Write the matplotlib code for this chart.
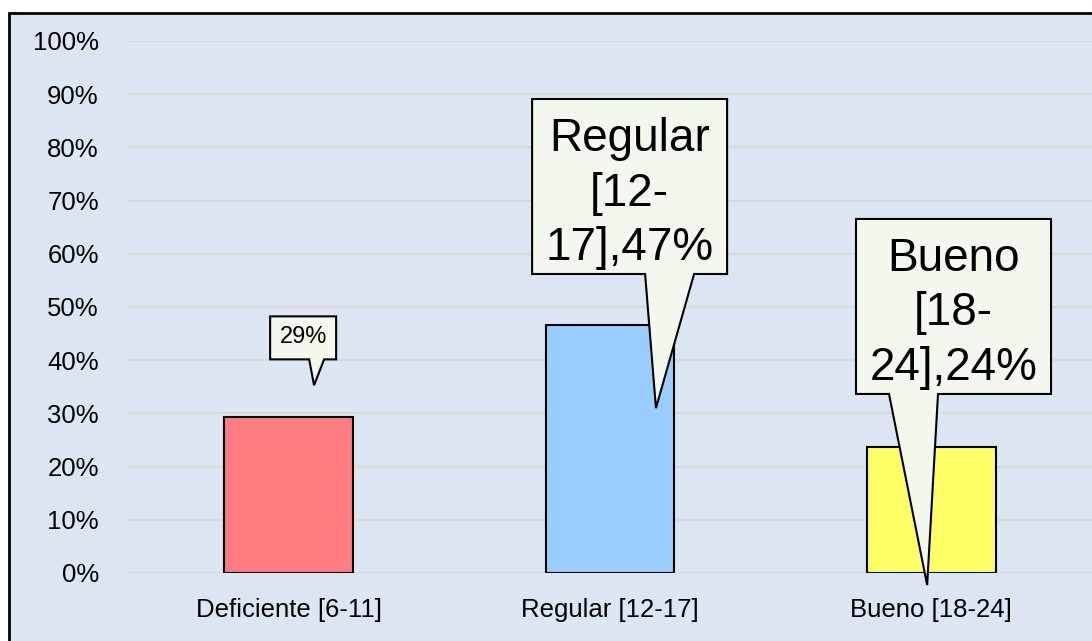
import matplotlib
matplotlib.use("Agg")
import matplotlib.pyplot as plt
from matplotlib.patches import Rectangle, Polygon
import numpy as np

plt.rcParams['font.family'] = ['Liberation Sans', 'DejaVu Sans']

# datos
categorias = ['Deficiente [6-11]', 'Regular [12-17]', 'Bueno [18-24]']
porcentajes = [29.4, 46.6, 23.7]
colores = ['#ff7c80', '#99ccff', '#ffff66']
etiquetas_y = ['0%', '10%', '20%', '30%', '40%', '50%', '60%', '70%', '80%', '90%', '100%']

# globos: centro de caja (data), tamaño en px, base del pico (px desde izq.), punta (data)
globos = [
    dict(centro=(0.045, 44.2), tam=(66, 43), base=(39, 54), punta=(0.079, 35.3),
         grande=False),
    dict(centro=(1.061, 72.65), tam=(195, 175), base=(113, 162), punta=(1.143, 31.0),
         grande=True),
    dict(centro=(2.069, 50.1), tam=(195, 175), base=(33, 82), punta=(1.987, -2.26),
         grande=True),
]

tam_ejes = 18.5


def envolver(texto):
    """parte el texto como lo hace Excel en la caja estrecha"""
    partes = []
    for palabra in texto.split(' '):
        if '-' in palabra and ',' in palabra:
            a, b = palabra.split('-', 1)
            partes += [a + '-', b]
        else:
            partes.append(palabra)
    return '\n'.join(partes)


fig = plt.figure(figsize=(10.92, 6.41), dpi=100)
fig.patch.set_facecolor('white')

# area del grafico con borde
fondo = Rectangle((9 / 1092, -0.02), 1.02, 1 - 13 / 641 + 0.02, transform=fig.transFigure,
                  facecolor='#dce6f2', edgecolor='black', linewidth=2, zorder=-10)
fig.patches.append(fondo)

ax = fig.add_axes([128 / 1092, 1 - 573 / 641, 1 - 128 / 1092, (573 - 41) / 641])
ax.set_facecolor('none')
ax.set_zorder(5)

x = np.arange(len(categorias))
ax.bar(x, porcentajes, width=0.4, color=colores, edgecolor='black', linewidth=1.5, zorder=3)

ax.set_xlim(-0.5, 2.5)
ax.set_ylim(0, 100)
ax.set_yticks(np.arange(0, 101, 10))
ax.set_yticklabels(etiquetas_y, fontsize=tam_ejes)
ax.set_xticks(x)
ax.set_xticklabels(categorias, fontsize=tam_ejes)
ax.tick_params(axis='y', length=0, pad=21)
ax.tick_params(axis='x', length=0, pad=18)
ax.grid(axis='y', color='#d9d9d9', linewidth=1.5, zorder=1)
for s in ax.spines.values():
    s.set_visible(False)

fig.canvas.draw()
to_px = ax.transData.transform
to_data = ax.transData.inverted().transform

for i, g in enumerate(globos):
    cx, cy = to_px(g['centro'])
    w, h = g['tam']
    tx, ty = to_px(g['punta'])
    l, r, b, t = cx - w / 2, cx + w / 2, cy - h / 2, cy + h / 2
    verts = [(l, t), (r, t), (r, b), (l + g['base'][1], b), (tx, ty), (l + g['base'][0], b), (l, b)]
    verts = to_data(np.array(verts))
    ax.add_patch(Polygon(verts, closed=True, facecolor='#f2f8ee', edgecolor='black',
                         linewidth=1.5, zorder=5, clip_on=False))
    valor = f"{round(porcentajes[i]):.0f}%"
    if g['grande']:
        texto = envolver(f"{categorias[i]},{valor}")
        tx_data = to_data((cx, cy - 7))
        ax.text(tx_data[0], tx_data[1], texto, ha='center', va='center',
                fontsize=33, linespacing=1.32, zorder=6)
    else:
        tx_data = to_data((cx, cy + 1))
        ax.text(tx_data[0], tx_data[1], valor, ha='center', va='center',
                fontsize=17, zorder=6)

fig.savefig('out.png', dpi=100)
